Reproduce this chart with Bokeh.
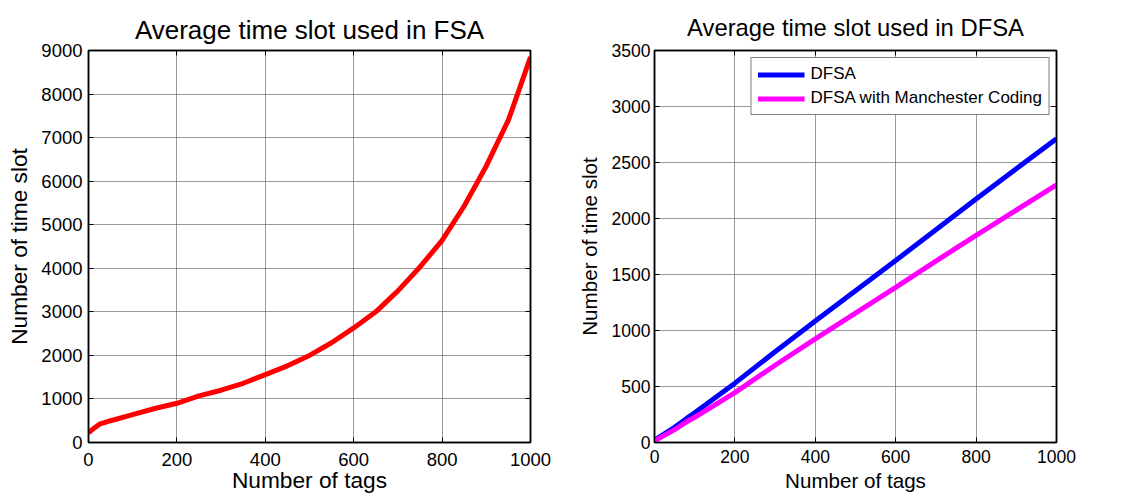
from bokeh.plotting import figure
from bokeh.layouts import row
from bokeh.models import Range1d, FixedTicker, LinearAxis, Legend, LegendItem
from bokeh.embed import file_html
from bokeh.resources import INLINE

# Average time slots used by FSA (framed slotted ALOHA)
fsa_tags = [0, 10, 25, 50, 100, 150, 200, 250, 300, 350, 400, 450, 500,
            550, 600, 650, 700, 750, 800, 850, 900, 950, 1000]
fsa_slots = [220, 310, 420, 500, 640, 780, 900, 1070, 1200, 1360, 1560, 1760, 2000,
             2290, 2630, 3000, 3480, 4030, 4640, 5430, 6350, 7400, 8850]

# Average time slots used by DFSA, plain and with Manchester coding
dfsa_tags = [0, 50, 80, 100, 200, 300, 400, 500, 600, 700, 800, 900, 1000]
dfsa_slots = [20, 135, 215, 265, 530, 810, 1085, 1355, 1625, 1900, 2175, 2445, 2712]
dfsa_mc_slots = [15, 115, 185, 225, 445, 690, 925, 1155, 1385, 1620, 1850, 2075, 2300]

x_ticks = [0, 200, 400, 600, 800, 1000]
fsa_y_ticks = [0, 1000, 2000, 3000, 4000, 5000, 6000, 7000, 8000, 9000]
dfsa_y_ticks = [0, 500, 1000, 1500, 2000, 2500, 3000, 3500]

FONT = "Liberation Sans"


def mirror_axis(ticks, gap=0):
    # tick marks only, no labels, to close the box on top and right
    return LinearAxis(ticker=FixedTicker(ticks=ticks), major_label_text_color=None,
                      major_label_text_font_size="0px",
                      major_tick_in=5, major_tick_out=0, minor_tick_line_color=None,
                      axis_line_color="black", axis_line_width=1.5,
                      major_label_standoff=gap)


def boxed_axes(p, yticks, tick_size, label_size, title_size, title_standoff,
               x_std, x_lbl_std, y_std, y_lbl_std, top_gap):
    p.title.align = "center"
    p.title.vertical_align = "top"
    p.title.text_font = FONT
    p.title.text_font_style = "normal"
    p.title.text_font_size = title_size
    p.title.text_color = "black"
    p.title.standoff = title_standoff
    p.outline_line_color = "black"
    p.outline_line_width = 1.5
    for ax in p.xaxis + p.yaxis:
        ax.axis_line_color = "black"
        ax.axis_line_width = 1.5
        ax.major_tick_in = 5
        ax.major_tick_out = 0
        ax.major_tick_line_color = "black"
        ax.minor_tick_line_color = None
        ax.major_label_text_font = FONT
        ax.major_label_text_font_size = tick_size
        ax.major_label_text_color = "black"
        ax.axis_label_text_font = FONT
        ax.axis_label_text_font_style = "normal"
        ax.axis_label_text_font_size = label_size
        ax.axis_label_text_color = "black"
    p.xaxis.major_label_standoff = x_std
    p.xaxis.axis_label_standoff = x_lbl_std
    p.yaxis.major_label_standoff = y_std
    p.yaxis.axis_label_standoff = y_lbl_std
    p.xaxis.ticker = FixedTicker(ticks=x_ticks)
    p.yaxis.ticker = FixedTicker(ticks=yticks)
    p.add_layout(mirror_axis(x_ticks, top_gap), "above")
    p.add_layout(mirror_axis(yticks), "right")
    p.xgrid.ticker = FixedTicker(ticks=x_ticks)
    p.ygrid.ticker = FixedTicker(ticks=yticks)
    for g in p.xgrid + p.ygrid:
        g.grid_line_color = "#555555"
        g.grid_line_alpha = 0.6
        g.grid_line_width = 1


p1 = figure(width=566, height=497, output_backend="svg", toolbar_location=None,
            title="Average time slot used in FSA",
            x_range=Range1d(0, 1000), y_range=Range1d(0, 9000),
            x_axis_label="Number of tags", y_axis_label="Number of time slot",
            min_border_left=88, min_border_right=36, min_border_top=46, min_border_bottom=54)
boxed_axes(p1, fsa_y_ticks, "18.5px", "22.7px", "26px", 7,
           x_std=10, x_lbl_std=-2, y_std=6, y_lbl_std=6, top_gap=5)
p1.line(fsa_tags, fsa_slots, line_color="#ff0000", line_width=5)

p2 = figure(width=566, height=497, output_backend="svg", toolbar_location=None,
            title="Average time slot used in DFSA",
            x_range=Range1d(0, 1000), y_range=Range1d(0, 3500),
            x_axis_label="Number of tags", y_axis_label="Number of time slot",
            min_border_left=88, min_border_right=76, min_border_top=50, min_border_bottom=55)
boxed_axes(p2, dfsa_y_ticks, "17.5px", "20.6px", "23.8px", 16,
           x_std=7, x_lbl_std=3, y_std=4, y_lbl_std=8, top_gap=0)
r_dfsa = p2.line(dfsa_tags, dfsa_slots, line_color="#0000ff", line_width=5)
r_mc = p2.line(dfsa_tags, dfsa_mc_slots, line_color="#ff00ff", line_width=5)

legend = Legend(items=[LegendItem(label="DFSA", renderers=[r_dfsa]),
                       LegendItem(label="DFSA with Manchester Coding", renderers=[r_mc])],
                location="top_right")
legend.label_text_font = FONT
legend.label_text_font_size = "17px"
legend.label_text_color = "black"
legend.border_line_color = "black"
legend.border_line_width = 1.5
legend.background_fill_color = "white"
legend.background_fill_alpha = 1
legend.margin = 7
legend.padding = 6
legend.spacing = 4
legend.glyph_width = 47
legend.glyph_height = 17
legend.label_height = 17
legend.label_standoff = 6
p2.add_layout(legend)

layout = row(p1, p2)
open("out.html", "w").write(file_html(layout, INLINE))
